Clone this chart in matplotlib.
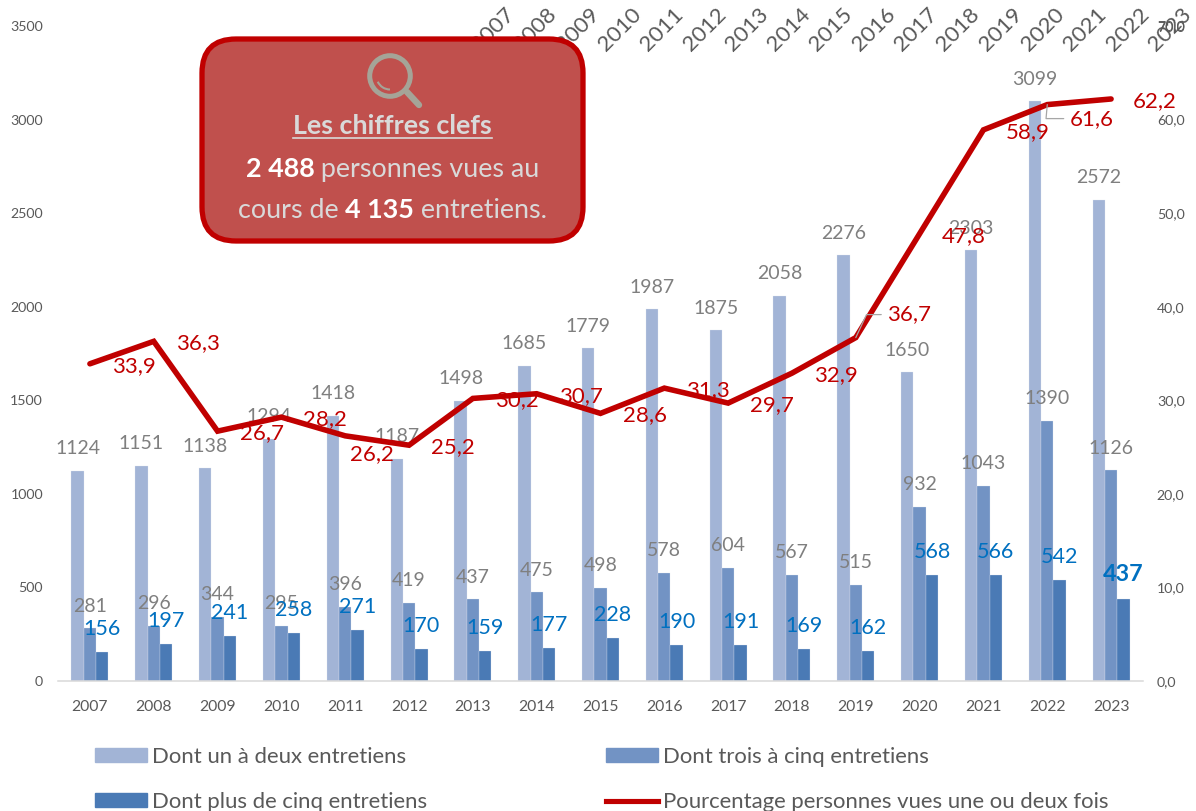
import matplotlib
matplotlib.use('Agg')
import matplotlib.pyplot as plt
from matplotlib.patches import FancyBboxPatch, Circle, Arc, Patch
from matplotlib.lines import Line2D

plt.rcParams['font.family'] = ['Lato', 'DejaVu Sans']

# Data
years = [2007, 2008, 2009, 2010, 2011, 2012, 2013, 2014, 2015, 2016, 2017, 2018, 2019, 2020, 2021, 2022, 2023]
one_two = [1124, 1151, 1138, 1294, 1418, 1187, 1498, 1685, 1779, 1987, 1875, 2058, 2276, 1650, 2303, 3099, 2572]
three_five = [281, 296, 344, 295, 396, 419, 437, 475, 498, 578, 604, 567, 515, 932, 1043, 1390, 1126]
over_five = [156, 197, 241, 258, 271, 170, 159, 177, 228, 190, 191, 169, 162, 568, 566, 542, 437]
percent = [33.9, 36.3, 26.7, 28.2, 26.2, 25.2, 30.2, 30.7, 28.6, 31.3, 29.7, 32.9, 36.7, 47.8, 58.9, 61.6, 62.2]

left_ticks = [0, 500, 1000, 1500, 2000, 2500, 3000, 3500]
right_ticks = [0, 10, 20, 30, 40, 50, 60, 70]

LIGHT = '#A2B4D6'
MID = '#7293C4'
DARK = '#4A7AB5'
RED = '#C00000'
GREY = '#7F7F7F'
BLUE = '#0070C0'
TEXT = '#595959'

W, H = 1196, 811
fig = plt.figure(figsize=(W / 100, H / 100), dpi=100)
ax = fig.add_axes([58 / W, 1 - 681 / H, (1143 - 58) / W, 655 / H])
ax.set_xlim(-0.5, len(years) - 0.5)
ax.set_ylim(0, 3500)

# Bars
xs = list(range(len(years)))
bw = 0.193
ax.bar([x - bw for x in xs], one_two, bw, color=LIGHT, edgecolor='#DCE3F0', linewidth=0.2, zorder=1)
ax.bar(xs, three_five, bw, color=MID, edgecolor='#DCE3F0', linewidth=0.2, zorder=1)
ax.bar([x + bw for x in xs], over_five, bw, color=DARK, edgecolor='#DCE3F0', linewidth=0.2, zorder=1)

# Bar labels
for x, v in zip(xs, one_two):
    ax.annotate(str(v), (x - bw, v), xytext=(0, 22), textcoords='offset pixels',
                ha='center', va='center', fontsize=14, color=GREY, zorder=2)
for x, v in zip(xs, three_five):
    ax.annotate(str(v), (x, v), xytext=(0, 22), textcoords='offset pixels',
                ha='center', va='center', fontsize=14, color=GREY, zorder=2)
for x, v in zip(xs, over_five):
    last = x == xs[-1]
    ax.annotate(str(v), (x + bw, v), xytext=(0, 25 if last else 23), textcoords='offset pixels',
                ha='center', va='center', fontsize=16.8 if last else 15.5,
                fontweight='bold' if last else 'normal', color=BLUE, zorder=3)

ax.set_xticks(xs)
ax.set_xticklabels(years, fontsize=11.3, color=TEXT)
ax.set_yticks(left_ticks)
ax.set_yticklabels(left_ticks, fontsize=10.2, color=TEXT)
ax.tick_params(axis='x', length=0, pad=14)
ax.tick_params(axis='y', length=0, pad=10.8)
for s in ['top', 'left', 'right']:
    ax.spines[s].set_visible(False)
ax.spines['bottom'].set_color('#D9D9D9')
ax.spines['bottom'].set_linewidth(1.1)

# Percentage line on the second axis
ax2 = ax.twinx()
ax2.set_ylim(0, 70)
ax2.set_yticks(right_ticks)
ax2.set_yticklabels([f'{t},0' for t in right_ticks], fontsize=10.2, color=TEXT)
ax2.tick_params(axis='y', length=0, pad=10)
for s in ['top', 'left', 'right', 'bottom']:
    ax2.spines[s].set_visible(False)
ax2.plot(xs, percent, color=RED, linewidth=4.0, solid_joinstyle='miter', solid_capstyle='round', zorder=4)

# label offsets of the line, in pixels
offsets = [(44, -2)] * len(years)
offsets[4] = (27, -18)
offsets[12] = (53, 23)
offsets[15] = (44, -14)
for i, (x, v) in enumerate(zip(xs, percent)):
    props = None
    if i == 12:
        props = dict(arrowstyle='-', color='#A6A6A6', lw=0.9, shrinkA=2, shrinkB=0, relpos=(0, 0.5),
                     connectionstyle='angle,angleA=0,angleB=65,rad=0')
    if i == 15:
        props = dict(arrowstyle='-', color='#A6A6A6', lw=0.9, shrinkA=2, shrinkB=0, relpos=(0, 0.5),
                     connectionstyle='angle,angleA=0,angleB=85,rad=0')
    ax2.annotate(f'{v:.1f}'.replace('.', ','), (x, v), xytext=offsets[i], textcoords='offset pixels',
                 ha='center', va='center', fontsize=16, color=RED, zorder=5, arrowprops=props)

# Legend
handles = [Patch(color=LIGHT), Patch(color=DARK), Patch(color=MID),
           Line2D([0], [0], color=RED, linewidth=3.7)]
labels = ['Dont un à deux entretiens', 'Dont plus de cinq entretiens',
          'Dont trois à cinq entretiens', 'Pourcentage personnes vues une ou deux fois']
fig.legend(handles, labels, ncol=2, loc='upper left', bbox_to_anchor=(95 / W, 1 - 747 / H),
           frameon=False, fontsize=15.9, labelcolor=TEXT, borderpad=0, borderaxespad=0,
           handlelength=2.36, handleheight=0.6, handletextpad=0.23, columnspacing=8.07, labelspacing=1.13)

# Overlay in pixel coordinates for the box and the stray year labels
top = fig.add_axes([0, 0, 1, 1], zorder=10)
top.set_xlim(0, W)
top.set_ylim(H, 0)
top.axis('off')
top.patch.set_alpha(0)

for i, y in enumerate(years):
    top.text(493 + 42.3 * i, 30, str(y), rotation=45, rotation_mode='anchor', ha='center', va='center',
             fontsize=16, color=TEXT, zorder=1, clip_on=False)
top.text(1171, 26, '70,0', ha='center', va='center', fontsize=10.2, color=TEXT, zorder=1)

box = FancyBboxPatch((228, 65), 329, 150, boxstyle='round,pad=26,rounding_size=34',
                     facecolor='#C0504D', edgecolor=RED, linewidth=3.8, zorder=2)
top.add_patch(box)

# Magnifier icon
ICON = '#A5A498'
top.add_patch(Circle((390, 76), 20.3, facecolor='none', edgecolor=ICON, linewidth=3.6, zorder=3))
top.plot([407, 419], [92, 105], color=ICON, linewidth=4.6, solid_capstyle='round', zorder=3)
top.add_patch(Arc((390, 76), 27, 27, angle=0, theta1=90, theta2=155, color=ICON, linewidth=1.5, zorder=3))

# Box text
renderer = fig.canvas.get_renderer()


def mixed_line(parts, cx, cy):
    items = []
    total = 0
    for s, bold in parts:
        t = top.text(0, cy, s, fontsize=19.4, va='center_baseline', ha='left', zorder=4,
                     fontweight='bold' if bold else 'normal', color='white' if bold else '#D9D9D9')
        width = t.get_window_extent(renderer).width
        items.append((t, width))
        total += width
    x = cx - total / 2
    for t, width in items:
        t.set_x(x)
        x += width


top.text(392.5, 126, 'Les chiffres clefs', ha='center', va='center', fontsize=19.4,
         fontweight='bold', color='#D9D9D9', zorder=4)
top.plot([293, 492], [138, 138], color='#D9D9D9', linewidth=1.2, zorder=4)
mixed_line([('2 488', True), ('\u00a0personnes vues au', False)], 392.5, 167)
mixed_line([('cours de\u00a0', False), ('4 135', True), ('\u00a0entretiens.', False)], 392.5, 208)

fig.savefig('out.png', dpi=100)
